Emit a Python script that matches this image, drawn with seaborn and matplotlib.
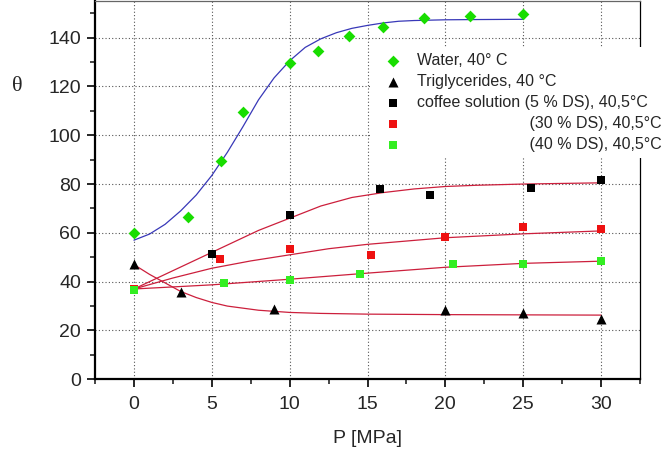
import matplotlib
matplotlib.use("Agg")
import matplotlib.pyplot as plt
import seaborn as sns
from matplotlib.ticker import MultipleLocator

# measured points
water_p = [0, 3.5, 5.6, 7.0, 10.0, 11.8, 13.8, 16.0, 18.6, 21.6, 25.0]
water_t = [60, 66.7, 89.6, 109.7, 129.7, 134.6, 140.8, 144.5, 147.9, 148.9, 149.8]

trig_p = [0, 3.0, 9.0, 20.0, 25.0, 30.0]
trig_t = [47.3, 35.7, 28.9, 28.2, 27.1, 24.8]

c5_p = [0, 5.0, 10.0, 15.8, 19.0, 25.5, 30.0]
c5_t = [37, 51.4, 67.2, 77.8, 75.5, 78.4, 81.7]

c30_p = [0, 5.5, 10.0, 15.2, 20.0, 25.0, 30.0]
c30_t = [37, 49.1, 53.2, 51.0, 58.2, 62.3, 61.5]

c40_p = [0, 5.8, 10.0, 14.5, 20.5, 25.0, 30.0]
c40_t = [36.6, 39.4, 40.8, 43.2, 47.3, 47.3, 48.4]

# fitted curves
water_fit_p = [0, 1, 2, 3, 4, 5, 6, 7, 8, 9, 10, 11, 12, 13, 14, 15, 16, 17, 18, 20, 22, 25]
water_fit_t = [57, 59.5, 63.5, 69, 75.5, 83.5, 93, 103.5, 114.5, 123.5, 130.5, 136, 139.5, 142,
               143.8, 145, 146, 146.7, 147, 147.3, 147.4, 147.5]

trig_fit_p = [0, 1, 2, 3, 4, 5, 6, 8, 10, 12, 15, 20, 25, 30]
trig_fit_t = [47, 43, 39.5, 36, 33.5, 31.5, 30, 28.3, 27.4, 27, 26.7, 26.5, 26.4, 26.3]

c5_fit_p = [0, 2, 4, 5, 6, 8, 10, 12, 14, 16, 18, 20, 22, 25, 30]
c5_fit_t = [37, 43, 49, 52, 55, 61, 66, 71, 74.5, 76.5, 78, 79, 79.5, 80, 80.5]

c30_fit_p = [0, 2.5, 5, 7.5, 10, 12.5, 15, 20, 25, 30]
c30_fit_t = [37, 41.5, 45.5, 48.5, 51, 53.5, 55.3, 58, 59.6, 60.8]

c40_fit_p = [0, 5, 10, 15, 20, 25, 30]
c40_fit_t = [37, 38.7, 41, 43.5, 45.9, 47.5, 48.4]

labels = ["Water, 40° C",
          "Triglycerides, 40 °C",
          "coffee solution (5 % DS), 40,5°C",
          " " * 25 + "(30 % DS), 40,5°C",
          " " * 25 + "(40 % DS), 40,5°C"]

sns.set_style("white")
plt.rcParams["font.family"] = ["Liberation Sans", "DejaVu Sans"]

fig = plt.figure(figsize=(6.62, 4.54), dpi=100)
ax = fig.add_axes([95 / 662, 1 - 379.3 / 454, 545 / 662, 378.3 / 454])

red_line = "#cc1f3c"
fits = [(water_fit_p, water_fit_t, "#3838b8"),
        (trig_fit_p, trig_fit_t, red_line),
        (c5_fit_p, c5_fit_t, red_line),
        (c30_fit_p, c30_fit_t, red_line),
        (c40_fit_p, c40_fit_t, red_line)]
for px, ty, col in fits:
    sns.lineplot(x=px, y=ty, color=col, linewidth=0.9, ax=ax, zorder=2)

series = [(water_p, water_t, "D", "#18dd00", 36),
          (trig_p, trig_t, "^", "black", 52),
          (c5_p, c5_t, "s", "black", 40),
          (c30_p, c30_t, "s", "#ee1111", 40),
          (c40_p, c40_t, "s", "#33ee22", 40)]
for (px, ty, m, col, size), lab in zip(series, labels):
    sns.scatterplot(x=px, y=ty, marker=m, color=col, s=size, linewidth=0,
                    ax=ax, label=lab, zorder=3)

ax.set_xlim(-2.5, 32.5)
ax.set_ylim(0, 155)
ax.xaxis.set_major_locator(MultipleLocator(5))
ax.xaxis.set_minor_locator(MultipleLocator(2.5))
ax.yaxis.set_major_locator(MultipleLocator(20))
ax.yaxis.set_minor_locator(MultipleLocator(10))
ax.tick_params(which="major", direction="out", length=6, width=1.4, labelsize=14,
               pad=4, bottom=True, left=True)
ax.tick_params(which="minor", direction="out", length=3.5, width=1.2,
               bottom=True, left=True)
ax.tick_params(axis="x", which="major", pad=6)

ax.grid(True, which="major", color="#555555", linestyle=(0, (1, 2)), linewidth=0.8)
ax.set_axisbelow(True)

for side in ["left", "bottom"]:
    ax.spines[side].set_linewidth(1.6)
    ax.spines[side].set_color("black")
ax.spines["right"].set_linewidth(0.9)
ax.spines["right"].set_color("black")
ax.spines["top"].set_linewidth(0.9)
ax.spines["top"].set_color("#666666")

ax.set_xlabel("P [MPa]", fontsize=14, labelpad=12)
ax.set_ylabel("θ", fontsize=16, rotation=0, va="center", ha="center",
              family="Liberation Serif")
ax.yaxis.set_label_coords(-0.143, 0.775)

leg = ax.legend(loc="upper left", bbox_to_anchor=(363 / 662, 1 - 39 / 454),
                bbox_transform=fig.transFigure, fontsize=11.5, frameon=True,
                fancybox=False, borderpad=0.4, labelspacing=0.37,
                handletextpad=0.5)
leg.get_frame().set_facecolor("white")
leg.get_frame().set_edgecolor("none")
leg.get_frame().set_alpha(1)
leg.set_zorder(10)

fig.savefig("out.png", dpi=100)
